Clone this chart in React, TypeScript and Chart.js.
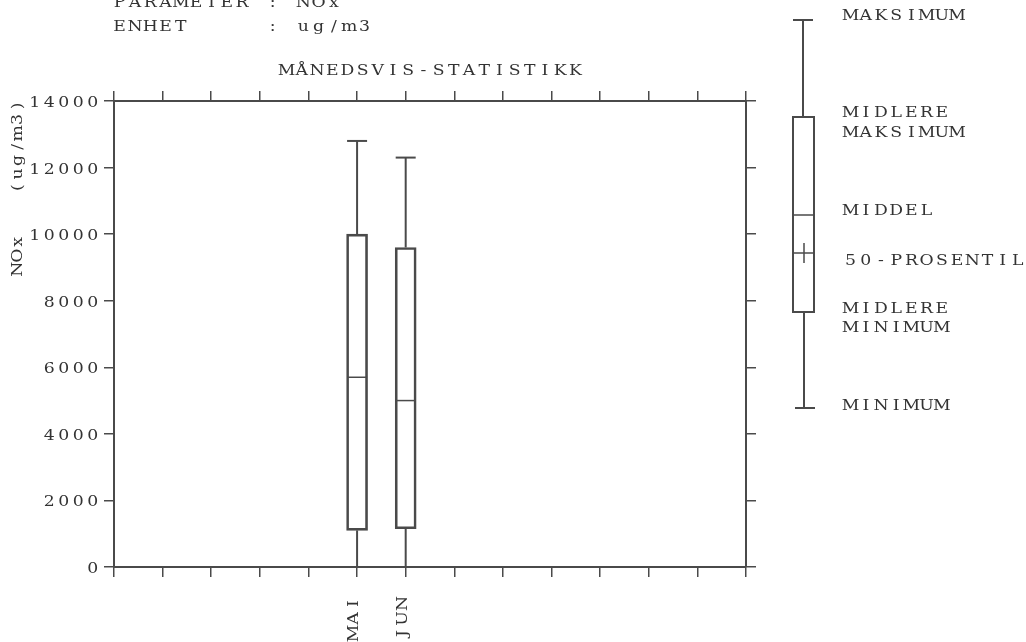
import { useEffect, useRef } from 'react';
import { Chart, registerables } from 'chart.js';

Chart.register(...registerables);

// Month names on the x axis (1..12); only months with statistics get a label
const months = ['JAN', 'FEB', 'MAR', 'APR', 'MAI', 'JUN', 'JUL', 'AUG', 'SEP', 'OKT', 'NOV', 'DES'];
const boxMonths = [5, 6];

// Monthly NOx statistics (ug/m3)
const maxValues = [12800, 12300];      // maksimum
const upperMeans = [10000, 9600];      // midlere maksimum
const meanValues = [5700, 5000];       // middel
const lowerMeans = [1100, 1150];       // midlere minimum
const minValues = [0, 0];              // minimum

const yMin = 0;
const yMax = 14000;
const yStep = 2000;

const headerLines = ['PARAMETER : NOx', 'ENHET     : ug/m3'];
const chartTitle = 'MÅNEDSVIS-STATISTIKK';
const yTitle = 'NOx   (ug/m3)';
const keyLabels = [
  ['MAKSIMUM'],
  ['MIDLERE', 'MAKSIMUM'],
  ['MIDDEL'],
  ['50-PROSENTIL'],
  ['MIDLERE', 'MINIMUM'],
  ['MINIMUM'],
];

const INK = '#4a4a4a';
const TEXT = '#333333';
const FONT = "'DejaVu Serif', 'Liberation Serif', serif";
const GLYPH_STRETCH = 1.15;

function line(ctx: CanvasRenderingContext2D, x1: number, y1: number, x2: number, y2: number) {
  ctx.beginPath();
  ctx.moveTo(x1, y1);
  ctx.lineTo(x2, y2);
  ctx.stroke();
}

// Typewriter-style text: every character centred in a fixed-width cell
function drawMono(
  ctx: CanvasRenderingContext2D,
  text: string,
  x: number,
  y: number,
  pitch: number,
  align: 'left' | 'right' | 'center' = 'left',
) {
  const w = pitch * text.length;
  const x0 = align === 'left' ? x : align === 'right' ? x - w : x - w / 2;
  ctx.save();
  ctx.textAlign = 'center';
  for (let i = 0; i < text.length; i++) {
    if (text[i] === ' ') continue;
    ctx.save();
    ctx.translate(x0 + pitch * (i + 0.5), y);
    ctx.scale(GLYPH_STRETCH, 1);
    ctx.fillText(text[i], 0, 0);
    ctx.restore();
  }
  ctx.restore();
}

const boxStatsPlugin = {
  id: 'boxStats',
  beforeDraw(chart: any) {
    const ctx = chart.ctx as CanvasRenderingContext2D;
    ctx.save();
    ctx.fillStyle = '#ffffff';
    ctx.fillRect(0, 0, chart.width, chart.height);
    ctx.restore();
  },
  afterDatasetsDraw(chart: any) {
    const ctx = chart.ctx as CanvasRenderingContext2D;
    const xs = chart.scales.x;
    const ys = chart.scales.y;
    ctx.save();
    ctx.strokeStyle = INK;
    ctx.lineWidth = 2;
    boxMonths.forEach((m, i) => {
      const cx = xs.getPixelForValue(m);
      const capHalf = 10;
      const pMax = ys.getPixelForValue(maxValues[i]);
      const pUp = ys.getPixelForValue(upperMeans[i]);
      const pLow = ys.getPixelForValue(lowerMeans[i]);
      const pMin = ys.getPixelForValue(minValues[i]);
      const pMean = ys.getPixelForValue(meanValues[i]);
      line(ctx, cx, pUp, cx, pMax);
      line(ctx, cx - capHalf, pMax, cx + capHalf, pMax);
      line(ctx, cx, pLow, cx, pMin);
      line(ctx, cx - capHalf, pMin, cx + capHalf, pMin);
      ctx.lineWidth = 1.5;
      line(ctx, cx - 10, pMean, cx + 10, pMean);
      ctx.lineWidth = 2;
    });
    ctx.restore();
  },
  afterDraw(chart: any) {
    const ctx = chart.ctx as CanvasRenderingContext2D;
    const area = chart.chartArea;
    const xs = chart.scales.x;
    const ys = chart.scales.y;
    ctx.save();
    ctx.fillStyle = TEXT;
    ctx.font = `15px ${FONT}`;
    ctx.textBaseline = 'alphabetic';

    // header block
    drawMono(ctx, headerLines[0], area.left - 2, 7, 15.3);
    drawMono(ctx, headerLines[1], area.left - 2, 31, 15.3);

    // title above the plot
    drawMono(ctx, chartTitle, (area.left + area.right) / 2 + 1, 75, 15.2, 'center');

    // y tick labels
    ys.ticks.forEach((t: any) => {
      drawMono(ctx, String(t.value), area.left - 14, ys.getPixelForValue(t.value) + 6, 14.5, 'right');
    });

    // month labels, reading bottom to top
    boxMonths.forEach((m) => {
      const cx = xs.getPixelForValue(m);
      ctx.save();
      ctx.translate(cx - 3, area.bottom + 29);
      ctx.rotate(-Math.PI / 2);
      ctx.textBaseline = 'middle';
      drawMono(ctx, months[m - 1], 0, 0, 15, 'right');
      ctx.restore();
    });

    // y axis title, reading bottom to top
    ctx.save();
    ctx.translate(22, 276);
    ctx.rotate(-Math.PI / 2);
    drawMono(ctx, yTitle, 0, 0, 13.6);
    ctx.restore();

    // key glyph at the right
    const kx = area.right + 57;
    ctx.strokeStyle = INK;
    ctx.lineWidth = 2;
    const kTop = 20, kBoxTop = 117, kMean = 215, kMed = 253, kBoxBot = 312, kBot = 408;
    line(ctx, kx - 10, kTop, kx + 10, kTop);
    line(ctx, kx, kTop, kx, kBoxTop);
    ctx.strokeRect(kx - 10, kBoxTop, 21, kBoxBot - kBoxTop);
    ctx.lineWidth = 1.5;
    line(ctx, kx - 10, kMean, kx + 11, kMean);
    line(ctx, kx - 10, kMed, kx + 11, kMed);
    line(ctx, kx + 1, kMed - 10, kx + 1, kMed + 10);
    ctx.lineWidth = 2;
    line(ctx, kx + 1, kBoxBot, kx + 1, kBot);
    line(ctx, kx - 8, kBot, kx + 12, kBot);

    // key labels
    const tx = area.right + 97;
    const baselines = [[20], [117, 137], [215], [265], [313, 332], [410]];
    keyLabels.forEach((rows, i) => {
      rows.forEach((t, j) => drawMono(ctx, t, tx, baselines[i][j], 15.2));
    });
    ctx.restore();
  },
};

export default function App() {
  const canvasRef = useRef<HTMLCanvasElement | null>(null);

  useEffect(() => {
    const canvas = canvasRef.current;
    if (!canvas) return;

    const axisGrid = { drawOnChartArea: false, drawTicks: true, tickLength: 10, color: INK, lineWidth: 1.5, offset: false };
    const axisBorder = { display: true, color: INK, width: 2 };

    const chart = new Chart(canvas, {
      type: 'bar',
      data: {
        datasets: [
          {
            label: 'NOx',
            data: boxMonths.map((m, i) => ({ x: m, y: [lowerMeans[i], upperMeans[i]] })) as any,
            backgroundColor: 'rgba(0,0,0,0)',
            borderColor: INK,
            borderWidth: 2,
            borderSkipped: false,
            barThickness: 21,
            xAxisID: 'x',
            yAxisID: 'y',
          },
        ],
      },
      plugins: [boxStatsPlugin],
      options: {
        animation: false,
        responsive: false,
        devicePixelRatio: 1,
        layout: { padding: 0 },
        plugins: { legend: { display: false }, tooltip: { enabled: false }, title: { display: false } },
        scales: {
          x: {
            type: 'linear',
            position: 'bottom',
            offset: false,
            min: 0,
            max: 13,
            grid: axisGrid,
            border: axisBorder,
            ticks: { stepSize: 1, autoSkip: false, display: false },
            afterFit: (s: any) => {
              s.height = 75;
            },
          },
          x2: {
            type: 'linear',
            position: 'top',
            offset: false,
            min: 0,
            max: 13,
            grid: axisGrid,
            border: axisBorder,
            ticks: { stepSize: 1, autoSkip: false, display: false },
            afterFit: (s: any) => {
              s.height = 101;
            },
          },
          y: {
            type: 'linear',
            position: 'left',
            min: yMin,
            max: yMax,
            grid: axisGrid,
            border: axisBorder,
            ticks: { stepSize: yStep, display: false },
            afterFit: (s: any) => {
              s.width = 114;
            },
          },
          y2: {
            type: 'linear',
            position: 'right',
            min: yMin,
            max: yMax,
            grid: axisGrid,
            border: axisBorder,
            ticks: { stepSize: yStep, display: false },
            afterFit: (s: any) => {
              s.width = 280;
            },
          },
        } as any,
      },
    });

    return () => chart.destroy();
  }, []);

  return (
    <div style={{ position: 'fixed', left: 0, top: 0, width: 1026, height: 642, background: '#fff' }}>
      <canvas ref={canvasRef} width={1026} height={642} />
    </div>
  );
}
